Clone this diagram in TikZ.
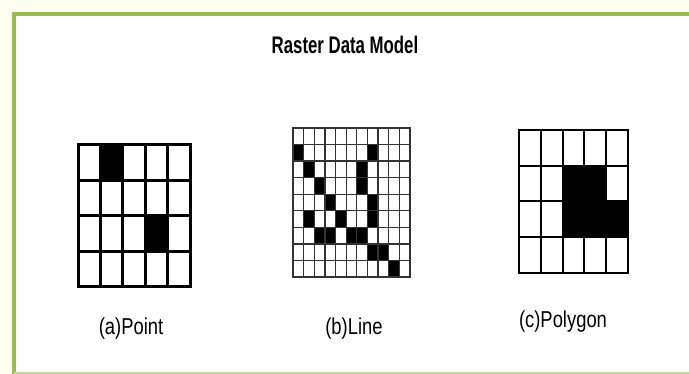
\documentclass[tikz,border=0pt]{standalone}
\usepackage{fontspec}
\setmainfont{Liberation Sans}
\usetikzlibrary{positioning}
\definecolor{olive}{RGB}{155,187,89}
\definecolor{cream}{RGB}{253,253,240}
\tikzset{%
    frameline/.style={olive,line width=3.5pt},%
    caption/.style={font=\fontsize{23}{26}\selectfont\addfontfeatures{FakeStretch=0.8}},%
    heading/.style={font=\bfseries\fontsize{24}{27}\selectfont\addfontfeatures{FakeStretch=0.7}}%
}
% #1 top left corner, #2 columns, #3 rows, #4 cell width, #5 cell height,
% #6 black cells (column/row, counted from the top left), #7 line style
\newcommand{\RC}[7]{%
  \begin{scope}[shift={#1}]
    \foreach \c/\r in {#6} {%
      \fill (\c*#4,\r*#5) rectangle ++(#4,#5);
    }
    \foreach \i in {0,...,#2} {%
      \draw[#7] (\i*#4,0) -- (\i*#4,#3*#5);
    }
    \foreach \j in {0,...,#3} {%
      \draw[#7] (0,\j*#5) -- (#2*#4,\j*#5);
    }
  \end{scope}
}
\begin{document}
\begin{tikzpicture}[x=1pt,y=-1pt]
    \useasboundingbox (0,0) rectangle (689,374);
    \fill[cream] (0,0) rectangle (689,374);
    \fill[white] (14,14) rectangle (689,372);
    % frame
    \draw[frameline] (689,14) -- (14,14) -- (14,374);
    \draw[olive!60,line width=1.5pt] (14,373) -- (689,373);
    \node[heading] (title) at (345,45) {Raster Data Model};
    % point
    \RC{(78,145)}{5}{4}{22.4}{35.5}{1/0,3/2}{line width=3pt,line cap=rect};
    % line
    \RC{(293,128)}{11}{9}{10.64}{16.56}{0/1,7/1,1/2,6/2,2/3,6/3,3/4,7/4,1/5,4/5,7/5,2/6,3/6,5/6,6/6,7/7,8/7,9/8}{black!80,line width=1.3pt,line cap=rect};
    % polygon
    \RC{(519,130)}{5}{4}{21.8}{35.75}{2/1,3/1,2/2,3/2,4/2}{line width=2pt,line cap=rect};
    \node[caption] (pt) at (131,329) {(a)Point};
    \node[caption] (ln) at (354,329) {(b)Line};
    \node[caption] (pg) at (563,322) {(c)Polygon};
\end{tikzpicture}
\end{document}
